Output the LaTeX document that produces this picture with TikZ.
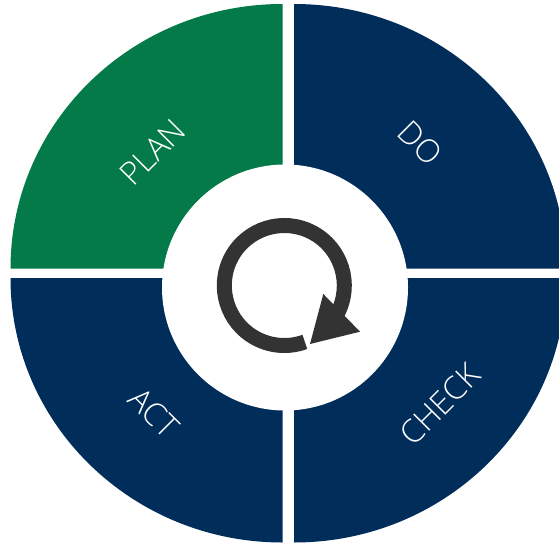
\documentclass[tikz,border=0pt]{standalone}
\usepackage{fontspec}
\setmainfont{Open Sans}[UprightFont={* Light}]
\definecolor{pdcagreen}{HTML}{037A47}
\definecolor{pdcanavy}{HTML}{012D5A}
\definecolor{pdcagray}{HTML}{333333}
\tikzset{
  sector/.style={fill=#1, draw=none},
  phase/.style={text=white, inner sep=0pt, font=\fontsize{32}{38}\selectfont},
  ringline/.style={draw=pdcagray, line width=15pt, line cap=butt},
}
\begin{document}
\begin{tikzpicture}[x=1pt, y=-1pt]
  \useasboundingbox[fill=white] (0,0) rectangle (559,548);
  % corners of the four sectors
  \coordinate (cPlan)  at (282.5,268.5);
  \coordinate (cDo)    at (294,268.5);
  \coordinate (cAct)   at (282.5,278);
  \coordinate (cCheck) at (294,278);
  % sectors
  \fill[sector=pdcagreen] (cPlan) -- ++(-272pt,0pt)
     arc[start angle=180, end angle=90, x radius=272pt, y radius=264.5pt] -- cycle;
  \fill[sector=pdcanavy] (cDo) -- ++(0pt,264.5pt)
     arc[start angle=90, end angle=0, x radius=272pt, y radius=264.5pt] -- cycle;
  \fill[sector=pdcanavy] (cAct) -- ++(-272pt,0pt)
     arc[start angle=180, end angle=270, x radius=272pt, y radius=264.5pt] -- cycle;
  \fill[sector=pdcanavy] (cCheck) -- ++(272pt,0pt)
     arc[start angle=0, end angle=-90, x radius=272pt, y radius=264.5pt] -- cycle;
  % central white disc
  \coordinate (hub) at (285,287.5);
  \fill[white] (hub) circle[radius=123pt];
  % circular arrow
  \coordinate (ring) at (284.3,285.5);
  \draw[ringline] (ring) ++(-28:60pt) arc[start angle=-28, end angle=290, radius=60pt];
  \coordinate (headA) at (323.3,294);
  \coordinate (headB) at (360,331.7);
  \coordinate (headTip) at (310,344);
  \fill[pdcagray] (headA) -- (headB) -- (headTip) -- cycle;
  % labels
  \node[phase, rotate=45]  (plan)  at (152.5,152)   {PLAN};
  \node[phase, rotate=-45] (do)    at (420,143.5)   {DO};
  \node[phase, rotate=-45] (act)   at (154,412.7)   {ACT};
  \node[phase, rotate=45]  (check) at (440,404.5)   {CHECK};
\end{tikzpicture}
\end{document}
